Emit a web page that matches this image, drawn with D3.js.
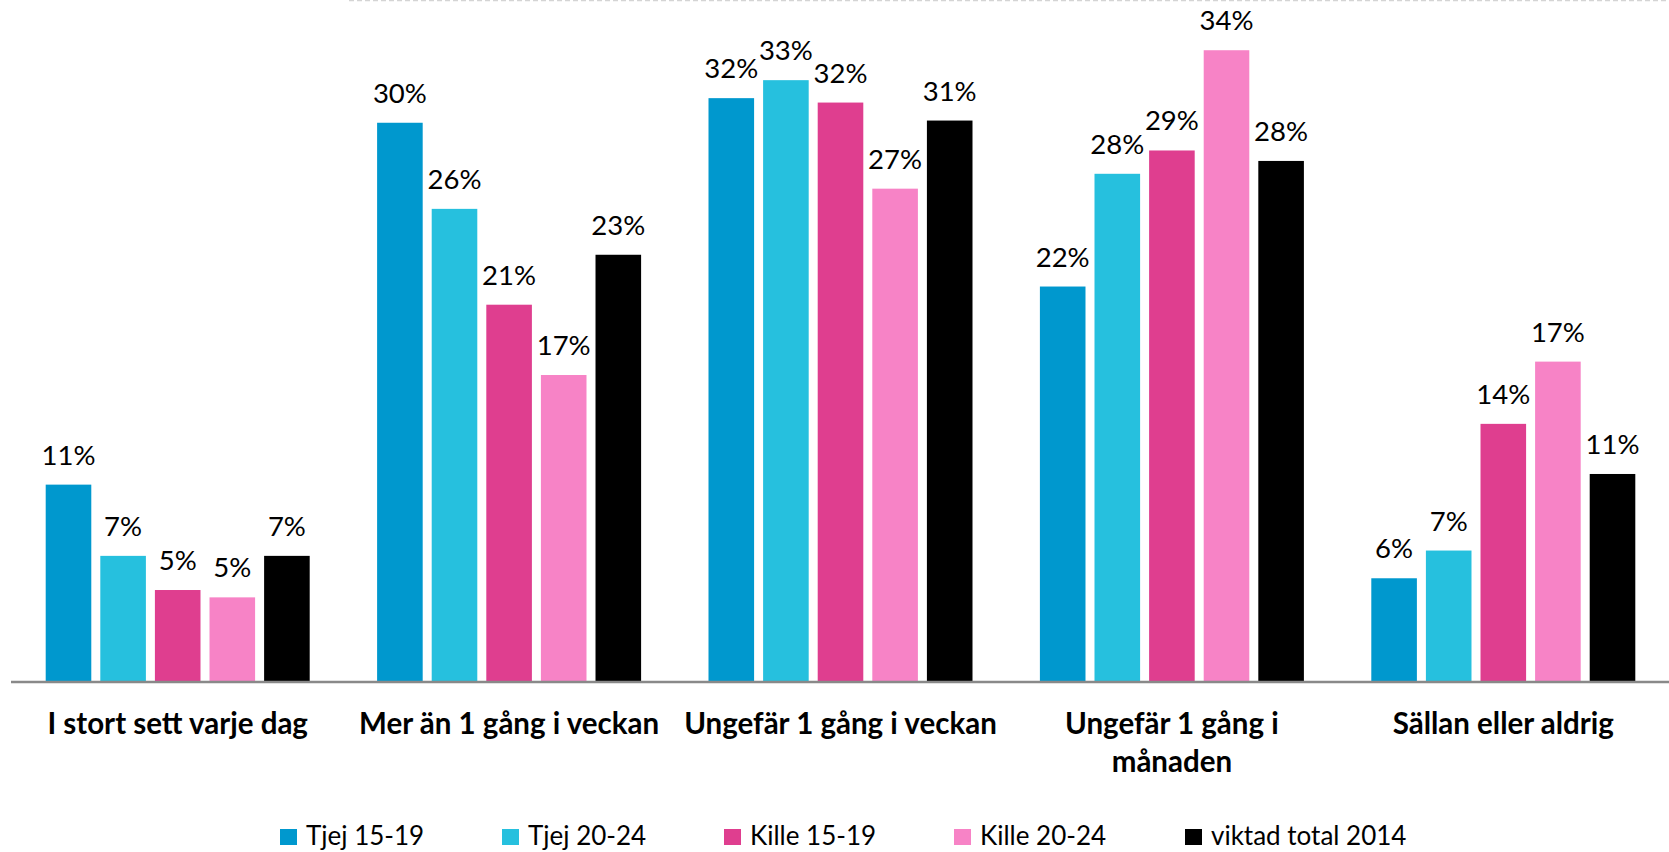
<!DOCTYPE html>
<html>
<head>
<meta charset="utf-8">
<script src="https://cdn.jsdelivr.net/npm/d3@7"></script>
<style>
	body { margin: 0; background: #fff; }
	svg { display: block; }
	.label { font-family: Lato, sans-serif; font-size: 27.5px; fill: #000; }
	.cat { font-family: Lato, sans-serif; font-weight: bold; font-size: 29.5px; fill: #000; }
	.legend { font-family: Lato, sans-serif; font-size: 26px; fill: #000; }
</style>
</head>
<body>
<div id="chart"></div>
<script>

var categories = ["I stort sett varje dag", "Mer än 1 gång i veckan", "Ungefär 1 gång i veckan", "Ungefär 1 gång i månaden", "Sällan eller aldrig"]

var series = ["Tjej 15-19", "Tjej 20-24", "Kille 15-19", "Kille 20-24", "viktad total 2014"]

var colours = ["#0098ce", "#26c0de", "#df3e8f", "#f783c6", "#000000"]

var tjej1519 = [0.1075, 0.3046, 0.3180, 0.2154, 0.0565]
var tjej2024 = [0.0687, 0.2577, 0.3278, 0.2768, 0.0716]
var kille1519 = [0.0501, 0.2055, 0.3156, 0.2895, 0.1406]
var kille2024 = [0.0461, 0.1672, 0.2687, 0.3441, 0.1745]
var total2014 = [0.0687, 0.2327, 0.3058, 0.2838, 0.1133]

var values = [tjej1519, tjej2024, kille1519, kille2024, total2014]

// wrapped category labels, as in the original
var catLines = {
	"Ungefär 1 gång i månaden": ["Ungefär 1 gång i", "månaden"]
}

var width = 1669
var height = 852

var svg = d3.select("#chart").append("svg")
	.attr("width", width)
	.attr("height", height)

var baseline = 682

var x0 = d3.scaleBand()
	.domain(categories)
	.range([12, 1669])
	.padding(0)

var groupPad = (x0.bandwidth() - 264) / 2

var x1 = d3.scaleBand()
	.domain(series)
	.range([groupPad, x0.bandwidth() - groupPad])
	.paddingInner(0.165)

var y = d3.scaleLinear()
	.domain([0, 0.37])
	.range([baseline, baseline - 37 * 18.36])

var fmt = d3.format(".0%")

// dashed frame line at the top
svg.append("line")
	.attr("x1", 349)
	.attr("x2", width)
	.attr("y1", 0.5)
	.attr("y2", 0.5)
	.attr("stroke", "#d4d4d4")
	.attr("stroke-width", 1.5)
	.attr("stroke-dasharray", "5,3")

var rows = []
categories.forEach(function(c, i) {
	series.forEach(function(s, j) {
		rows.push({ cat: c, series: s, value: values[j][i], colour: colours[j] })
	})
})

var groups = svg.selectAll(".group")
	.data(categories)
	.enter()
	.append("g")
	.attr("class", "group")
	.attr("transform", d => `translate(${x0(d)},0)`)

groups.selectAll("rect")
	.data(c => rows.filter(r => r.cat === c))
	.enter()
	.append("rect")
	.attr("x", d => x1(d.series))
	.attr("y", d => y(d.value))
	.attr("width", x1.bandwidth())
	.attr("height", d => baseline - y(d.value))
	.attr("fill", d => d.colour)

groups.selectAll(".label")
	.data(c => rows.filter(r => r.cat === c))
	.enter()
	.append("text")
	.attr("class", "label")
	.attr("x", d => x1(d.series) + x1.bandwidth() / 2)
	.attr("y", d => y(d.value) - 20)
	.attr("text-anchor", "middle")
	.text(d => fmt(d.value))

// x axis line
var xAxis = svg.append("g")
	.attr("transform", `translate(0,${baseline})`)
	.call(d3.axisBottom(x0).tickSize(0).tickFormat(""))

xAxis.select(".domain")
	.attr("stroke", "#898989")
	.attr("stroke-width", 2.5)
	.attr("d", `M11,0H${width}`)

// category labels
var cats = svg.selectAll(".cat")
	.data(categories)
	.enter()
	.append("text")
	.attr("class", "cat")
	.attr("text-anchor", "middle")
	.attr("x", d => x0(d) + x0.bandwidth() / 2)
	.attr("y", baseline + 52)

cats.selectAll("tspan")
	.data(d => catLines[d] || [d])
	.enter()
	.append("tspan")
	.attr("x", function() { return d3.select(this.parentNode).attr("x") })
	.attr("dy", (d, i) => i === 0 ? 0 : 38)
	.text(d => d)

// legend
var legendX = [280, 502, 724, 954, 1185]

var legend = svg.selectAll(".legendItem")
	.data(series)
	.enter()
	.append("g")
	.attr("class", "legendItem")
	.attr("transform", (d, i) => `translate(${legendX[i]},829)`)

legend.append("rect")
	.attr("width", 17)
	.attr("height", 16)
	.attr("fill", (d, i) => colours[i])

legend.append("text")
	.attr("class", "legend")
	.attr("x", 26)
	.attr("y", 16)
	.text(d => d)

</script>
</body>
</html>
